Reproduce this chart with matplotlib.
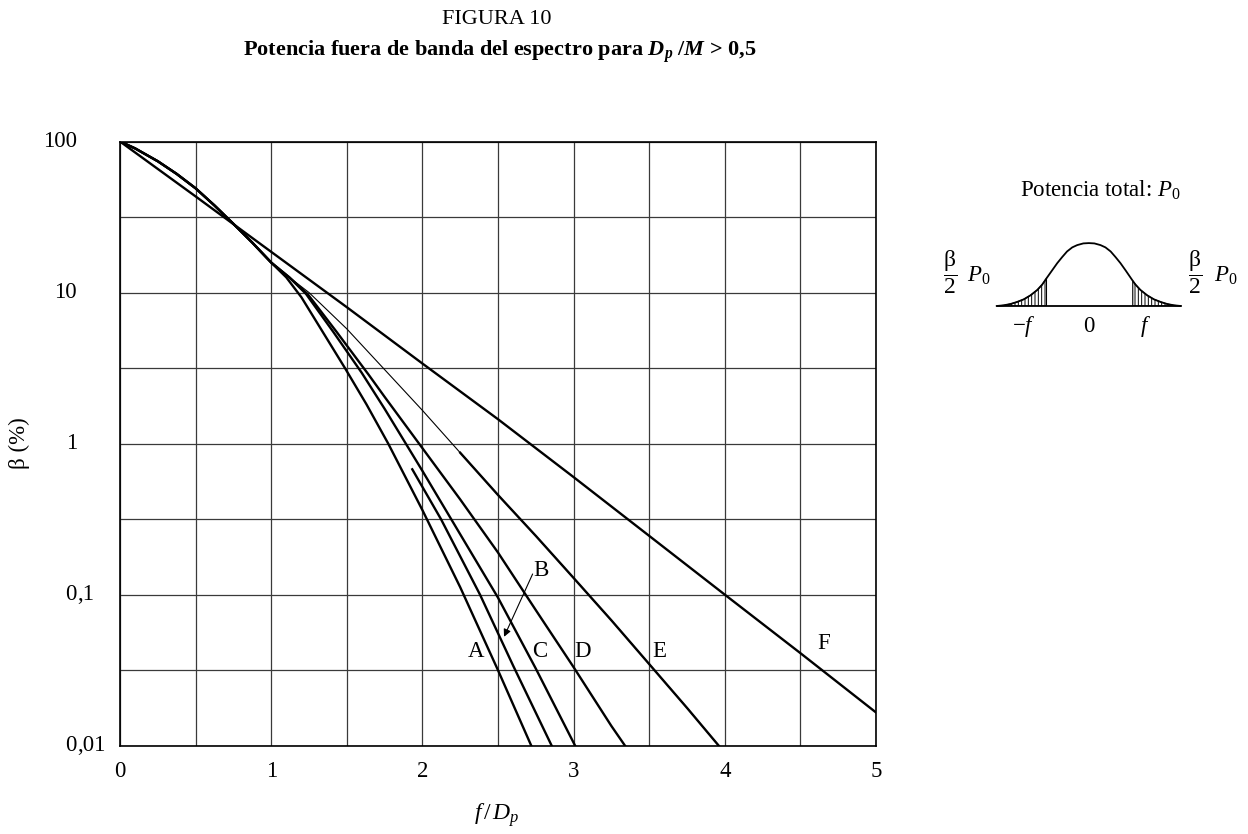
import numpy as np
import matplotlib
matplotlib.use("Agg")
import matplotlib.pyplot as plt
import matplotlib.transforms as mtransforms

plt.rcParams['font.family'] = ['Liberation Serif', 'DejaVu Serif']
plt.rcParams['mathtext.fontset'] = 'custom'
plt.rcParams['mathtext.rm'] = 'Liberation Serif'
plt.rcParams['mathtext.it'] = 'Liberation Serif:italic'
plt.rcParams['mathtext.bf'] = 'Liberation Serif:bold'
plt.rcParams['mathtext.bfit'] = 'Liberation Serif:bold:italic'
plt.rcParams['hatch.linewidth'] = 0.7

# common start of curves A, C, D, E (beta in %)
x_common = [0, 0.1, 0.25, 0.375, 0.5, 0.625, 0.75, 0.875, 1.0]
beta_common = [100, 90, 74, 61, 49, 37.7, 28.5, 21.4, 15.8]

# branches after the common part
x_a = x_common + [1.1, 1.2, 1.333, 1.488, 1.63, 1.774, 2.0, 2.25, 2.5, 2.72]
beta_a = beta_common + [12.6, 9.3, 5.65, 3.16, 1.82, 1.0, 0.363, 0.112, 0.0316, 0.01]

x_b = [1.933, 2.123, 2.381, 2.6, 2.855]
beta_b = [0.676, 0.316, 0.1, 0.0339, 0.01]

x_c = x_common + [1.12, 1.23, 1.41, 1.598, 1.75, 2.0, 2.25, 2.5, 2.75, 3.01]
beta_c = beta_common + [12.6, 9.8, 5.5, 2.95, 1.7, 0.66, 0.251, 0.0955, 0.0324, 0.01]

x_d = x_common + [1.12, 1.24, 1.432, 1.642, 1.75, 2.0, 2.25, 2.5, 2.75, 3.0, 3.25, 3.34]
beta_d = beta_common + [12.6, 9.8, 5.5, 2.88, 2.04, 0.933, 0.427, 0.19, 0.079, 0.0331, 0.0135, 0.01]

x_e = x_common + [1.12, 1.25, 1.5, 1.75, 2.0, 2.25, 2.5, 2.75, 3.0, 3.25, 3.5, 3.75, 3.96]
beta_e = beta_common + [12.6, 10, 5.75, 3.09, 1.66, 0.87, 0.457, 0.245, 0.129, 0.0676, 0.0347, 0.0178, 0.01]
e_thick_from = 2.25  # E is drawn thin up to here

x_f = [0, 0.5, 1.0, 1.5, 2.0, 2.5, 3.0, 3.5, 4.0, 4.5, 5.0]
beta_f = [100, 43.3, 18.6, 8.0, 3.39, 1.45, 0.60, 0.245, 0.10, 0.041, 0.0166]

# curve labels
lab_text = ['A', 'B', 'C', 'D', 'E', 'F']
lab_x = [2.355, 2.782, 2.778, 3.058, 3.567, 4.651]
lab_y = [0.042, 0.145, 0.042, 0.042, 0.042, 0.0475]
arrow_b_from = (2.729, 0.137)
arrow_b_to = (2.540, 0.0526)

x_ticks = [0, 1, 2, 3, 4, 5]
y_ticks = [100, 10, 1, 0.1, 0.01]
y_tick_labels = ['100', '10', '1', '0,1', '0,01']

# inset spectrum sketch (normalised frequency, relative level)
spec_u = [-3.0, -2.77, -2.55, -2.34, -2.12, -1.90, -1.68, -1.52, -1.38, -1.20, -1.03,
          -0.87, -0.71, -0.54, -0.38, -0.18, 0.0, 0.18, 0.38, 0.54, 0.71, 0.87, 1.03,
          1.20, 1.43, 1.52, 1.68, 1.90, 2.12, 2.34, 2.55, 2.77, 3.0]
spec_h = [0.0, 0.011, 0.032, 0.064, 0.106, 0.170, 0.255, 0.340, 0.44, 0.564, 0.681,
          0.777, 0.867, 0.932, 0.968, 0.995, 1.0, 0.995, 0.968, 0.932, 0.867, 0.777, 0.681,
          0.564, 0.40, 0.340, 0.255, 0.170, 0.106, 0.064, 0.032, 0.011, 0.0]
cut_left = -1.38
cut_right = 1.43

W, H = 1248, 834
fig = plt.figure(figsize=(W / 100, H / 100), dpi=100)


def px_box(x0, y0, x1, y1):
    return [x0 / W, 1 - y1 / H, (x1 - x0) / W, (y1 - y0) / H]


ax = fig.add_axes(px_box(120, 141.5, 876, 745.7))
ax.set_yscale('log')
ax.set_xlim(0, 5)
ax.set_ylim(0.01, 100)

grid_c = '#3a3a3a'
ax.set_xticks(x_ticks)
ax.set_xticks(np.arange(0.5, 5, 1), minor=True)
ax.set_yticks(y_ticks)
ax.set_yticks([10 ** (k + 0.5) for k in range(-2, 2)], minor=True)
ax.yaxis.set_minor_formatter(plt.NullFormatter())
ax.set_yticklabels([''] * len(y_ticks))
ax.grid(True, which='both', color=grid_c, lw=0.9)
ax.tick_params(which='both', length=0, labelsize=16.5, pad=11)
for s in ax.spines.values():
    s.set_linewidth(1.2)

thick = 1.7
thin = 0.8
ax.plot(x_a, beta_a, color='k', lw=thick)
ax.plot(x_b, beta_b, color='k', lw=thick)
ax.plot(x_c, beta_c, color='k', lw=thick)
ax.plot(x_d, beta_d, color='k', lw=thick)
i_e = x_e.index(e_thick_from)
ax.plot(x_e, beta_e, color='k', lw=thin)
ax.plot(x_e[i_e:], beta_e[i_e:], color='k', lw=thick)
ax.plot(x_f, beta_f, color='k', lw=thick)

for t, lx, ly in zip(lab_text, lab_x, lab_y):
    ax.text(lx, ly, t, fontsize=16.5, ha='center', va='center')
ax.annotate('', xy=arrow_b_to, xytext=arrow_b_from,
            arrowprops=dict(arrowstyle='-|>', color='k', lw=0.8,
                            mutation_scale=11, shrinkA=0, shrinkB=0))

# y tick labels aligned on the decimal comma
trans = mtransforms.blended_transform_factory(ax.transAxes, ax.transData)
x_comma = (77 - 120) / 756
for v, s in zip(y_ticks, y_tick_labels):
    whole, _, dec = s.partition(',')
    ax.text(x_comma, v, whole, transform=trans, ha='right', va='center', fontsize=16.5)
    if dec:
        ax.text(x_comma, v, ',' + dec, transform=trans, ha='left', va='center', fontsize=16.5)

ax.set_ylabel('β (%)', fontsize=16.5)
ax.yaxis.set_label_coords((30 - 120) / 756, 0.5)
fig.text(497 / W, 1 - 815 / H, r'$f\,/\,D_p$', ha='center', va='center', fontsize=17)

fig.text(497 / W, 1 - 20 / H, 'FIGURA 10', ha='center', va='center', fontsize=16)
fig.text(500 / W, 1 - 52 / H,
         r'Potencia fuera de banda del espectro para $\mathbfit{D}_{\mathbfit{p}}\ \mathbf{/}\mathbfit{M}$ > 0,5',
         ha='center', va='center', fontsize=16, fontweight='bold')

# inset: spectrum sketch
ax2 = fig.add_axes(px_box(990.6, 236.8, 1187.1, 306))
ax2.set_xlim(-3.2, 3.2)
ax2.set_ylim(0, 1.1)
ax2.axis('off')
u = np.array(spec_u)
h = np.array(spec_h)
ax2.plot(u, h, color='k', lw=1.3, clip_on=False)
ax2.hlines(0, u[0], u[-1], color='k', lw=1.3, clip_on=False)
left = u <= cut_left
right = u >= cut_right
ax2.fill_between(u[left], 0, h[left], facecolor='none', edgecolor='k',
                 hatch='|||||', lw=0.8)
ax2.fill_between(u[right], 0, h[right], facecolor='none', edgecolor='k',
                 hatch='|||||', lw=0.8)
ax2.text(-2.1, -0.33, r'$-f$', ha='center', va='center', fontsize=16.5, clip_on=False)
ax2.text(0, -0.33, '0', ha='center', va='center', fontsize=16.5, clip_on=False)
ax2.text(1.86, -0.33, r'$f$', ha='center', va='center', fontsize=16.5, clip_on=False)

fig.text(1100 / W, 1 - 190 / H, r'Potencia total: $P_0$', ha='center', va='center', fontsize=16.5)
fig.text(950 / W, 1 - 272 / H, r'$\dfrac{\mathrm{β}}{2}$', ha='center', va='center', fontsize=17)
fig.text(967 / W, 1 - 276 / H, r'$P_0$', ha='left', va='center', fontsize=16.5)
fig.text(1195 / W, 1 - 272 / H, r'$\dfrac{\mathrm{β}}{2}$', ha='center', va='center', fontsize=17)
fig.text(1214 / W, 1 - 276 / H, r'$P_0$', ha='left', va='center', fontsize=16.5)

fig.savefig('out.png', dpi=100)
